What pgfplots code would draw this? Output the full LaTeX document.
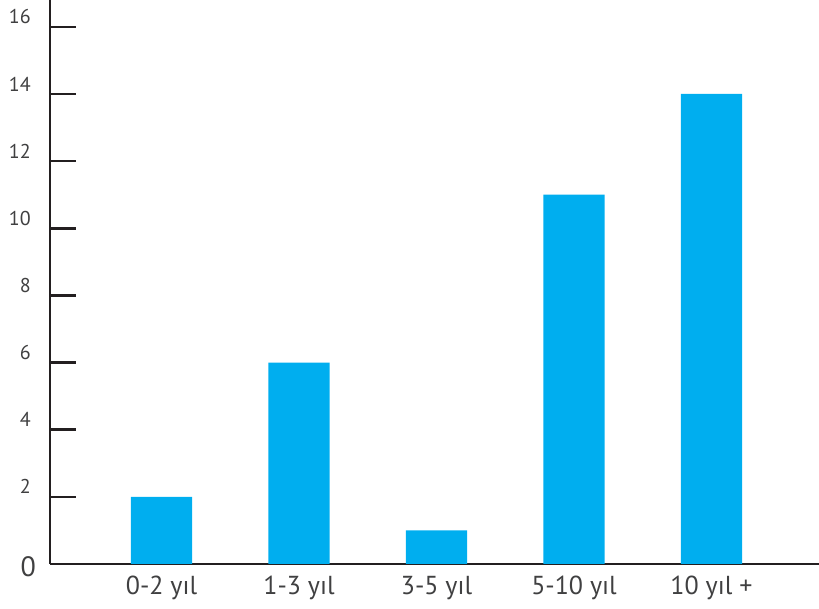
\documentclass[border=0pt]{standalone}
\usepackage{fontspec}
\setmainfont{PT Sans}
\usepackage{pgfplots}
\pgfplotsset{compat=1.18}
\definecolor{barblue}{HTML}{00AEEF}
\definecolor{axisblack}{HTML}{231F20}
\definecolor{labelgray}{HTML}{404041}
\begin{document}
\begin{tikzpicture}[x=1pt,y=1pt]
\useasboundingbox (0,0) rectangle (819,609);
\begin{axis}[
    at={(50pt,45pt)},
    anchor=south west,
    scale only axis,
    width=769pt,
    height=564pt,
    axis lines=left,
    axis line style={axisblack, line width=2.8pt, -},
    xmin=-0.811, xmax=4.782,
    ymin=0, ymax=16.8,
    ybar,
    bar width=0.444,
    xtick=data,
    xticklabels={0-2 yıl, 1-3 yıl, 3-5 yıl, 5-10 yıl, 10 yıl +},
    ytick={2,4,...,16},
    xtick style={draw=none},
    ytick style={draw=axisblack, line width=2.6pt},
    tick align=inside,
    major tick length=26pt,
    /pgf/number format/assume math mode=true,
    ticklabel style={text=labelgray, inner sep=0pt},
    yticklabel style={font=\fontsize{20}{24}\selectfont, anchor=east, xshift=-19pt, yshift=10pt},
    xticklabel style={font=\fontsize{26}{30}\selectfont, anchor=north, yshift=-12pt},
    extra y ticks={0},
    extra y tick style={
        major tick length=0pt,
        yticklabel style={font=\fontsize{28}{32}\selectfont, xshift=5pt, yshift=-13pt},
    },
    clip=false,
]
\addplot[fill=barblue, draw=none] coordinates {
    (0,2) (1,6) (2,1) (3,11) (4,14)
};
\end{axis}
\end{tikzpicture}
\end{document}
